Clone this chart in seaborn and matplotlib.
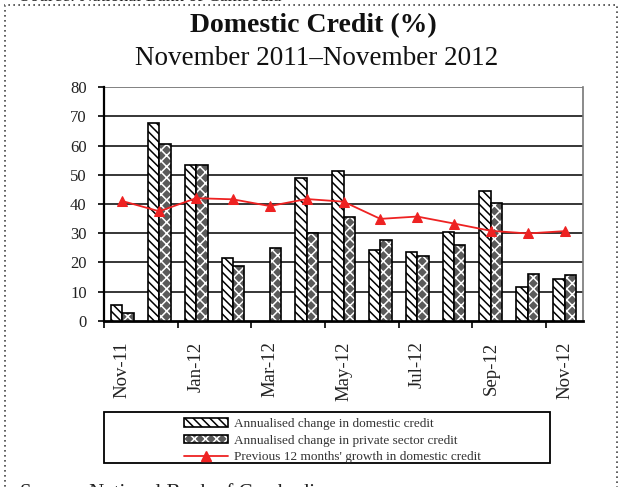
import matplotlib.pyplot as plt
import numpy as np
import pandas as pd
import seaborn as sns
from matplotlib.legend_handler import HandlerTuple
from matplotlib.patches import Patch, Rectangle
from matplotlib.lines import Line2D

plt.switch_backend("Agg")

# --- data ---
months = ["Nov-11", "Dec-11", "Jan-12", "Feb-12", "Mar-12", "Apr-12", "May-12",
          "Jun-12", "Jul-12", "Aug-12", "Sep-12", "Oct-12", "Nov-12"]
domestic = [5.5, 67.9, 53.3, 21.5, np.nan, 48.9, 51.2, 24.4, 23.7, 30.4, 44.3, 11.5, 14.4]
private = [2.6, 60.5, 53.3, 18.8, 24.8, 30.1, 35.6, 27.7, 22.1, 26.1, 40.5, 16.1, 15.5]
growth = [41.0, 37.5, 42.0, 41.6, 39.3, 41.7, 40.8, 34.9, 35.7, 33.3, 30.8, 29.9, 30.7]
label_months = ["Nov-11", "Jan-12", "Mar-12", "May-12", "Jul-12", "Sep-12", "Nov-12"]

lab_dom = "Annualised change in domestic credit"
lab_priv = "Annualised change in private sector credit"
lab_line = "Previous 12 months' growth in domestic credit"

sns.set_style("white")
plt.rcParams["font.family"] = ["Liberation Serif", "DejaVu Serif"]
plt.rcParams["hatch.linewidth"] = 1.1

df = pd.DataFrame({
    "month": months * 2,
    "value": domestic + private,
    "series": [lab_dom] * len(months) + [lab_priv] * len(months),
})

fig = plt.figure(figsize=(6.21, 4.87), dpi=100)
ax = fig.add_axes([104 / 621, 1 - 320.7 / 487, (583 - 104) / 621, (320.7 - 87.3) / 487])

sns.barplot(data=df, x="month", y="value", hue="series", order=months,
            hue_order=[lab_dom, lab_priv], width=0.62, ax=ax, legend=False,
            saturation=1, palette=["white", "#5a5a5a"])

# domestic bars: white with black diagonal hatch
for p in ax.containers[0]:
    p.set_hatch("\\\\\\\\")
    p.set_edgecolor("black")
    p.set_linewidth(1.2)
    p.set_zorder(3)
# private bars: dark grey with white cross hatch, black outline on top
for p in ax.containers[1]:
    p.set_hatch("xxx")
    p.set_edgecolor("white")
    p.set_linewidth(0)
    p.set_zorder(3)
    ax.add_patch(Rectangle(p.get_xy(), p.get_width(), p.get_height(), fill=False,
                           edgecolor="black", linewidth=1.2, zorder=4))

sns.lineplot(x=np.arange(len(months)), y=growth, sort=False, color="#ee2222",
             marker="^", markersize=7, markeredgecolor="#ee2222", linewidth=1.3,
             ax=ax, zorder=5)

ax.set_xlim(-0.5, len(months) - 0.5)
ax.set_ylim(0, 80)
ax.set_yticks(range(0, 81, 10))
ax.set_xlabel("")
ax.set_ylabel("")

# grid lines
for v in range(10, 80, 10):
    ax.axhline(v, color="black", linewidth=1.1, zorder=1)
ax.axhline(80, color="#777777", linewidth=1.3, zorder=1)

# x ticks: marks at every second category boundary, labels every second month
ax.set_xticks(np.arange(-0.5, len(months) - 1, 2))
ax.set_xticklabels([])
ax.set_xticks([months.index(m) for m in label_months], minor=True)
ax.set_xticklabels(label_months, minor=True, rotation=90, fontsize=13.5, va="top", ha="center")
ax.tick_params(axis="x", which="major", direction="out", length=5, width=1.2, color="black", bottom=True)
ax.tick_params(axis="x", which="minor", length=0, pad=15)
ax.tick_params(axis="y", direction="out", length=4.5, width=1.2, color="black", left=True,
               labelsize=12, pad=8)
for t in ax.get_yticklabels() + ax.get_xticklabels(minor=True):
    t.set_color("#222222")

for s in ["left", "bottom"]:
    ax.spines[s].set_color("black")
ax.spines["left"].set_linewidth(1.6)
ax.spines["bottom"].set_linewidth(2.0)
ax.spines["top"].set_visible(False)
ax.spines["right"].set_color("#777777")
ax.spines["right"].set_linewidth(1.2)

# titles
fig.text(0.505, 1 - 32 / 487, "Domestic Credit (%)", ha="center", va="baseline",
         fontsize=20, fontweight="bold", color="#111111")
fig.text(0.51, 1 - 65 / 487, "November 2011\u2013November 2012", ha="center", va="baseline",
         fontsize=19.5, color="#111111")

# legend
h_dom = Patch(facecolor="white", edgecolor="black", hatch="\\\\\\\\", linewidth=1.2)
h_priv = (Patch(facecolor="#5a5a5a", edgecolor="white", hatch="xxx", linewidth=0),
          Patch(fill=False, edgecolor="black", linewidth=1.2))
h_line = Line2D([], [], color="#ee2222", marker="^", markersize=7, linewidth=1.3)
fig.legend([h_dom, h_priv, h_line], [lab_dom, lab_priv, lab_line],
           handler_map={tuple: HandlerTuple(ndivide=1)},
           loc="upper left", bbox_to_anchor=(175 / 621, 1 - 409 / 487),
           frameon=False, fontsize=9.5, handlelength=3.3, handleheight=0.6,
           handletextpad=0.45, labelspacing=0.35, borderpad=0.2, labelcolor="#333333")
fig.add_artist(Rectangle((104 / 621, 1 - 463 / 487), (550 - 104) / 621, 51 / 487,
                         transform=fig.transFigure, fill=False, edgecolor="black",
                         linewidth=1.3))

# outer dotted frame and cut-off source lines
fig.add_artist(Rectangle((5 / 621, -0.2), (617 - 5) / 621, 1.2 - 5 / 487,
                         transform=fig.transFigure, fill=False, edgecolor="#444444",
                         linewidth=1.2, linestyle=(0, (1, 2)), clip_on=False))
fig.text(20 / 621, 1 - 1 / 487, "Source: National Bank of Cambodia", ha="left",
         va="baseline", fontsize=13, color="#222222")
fig.text(20 / 621, -11 / 487, "Source: National Bank of Cambodia", ha="left",
         va="baseline", fontsize=15, color="#222222")

fig.savefig("out.png", dpi=100)
